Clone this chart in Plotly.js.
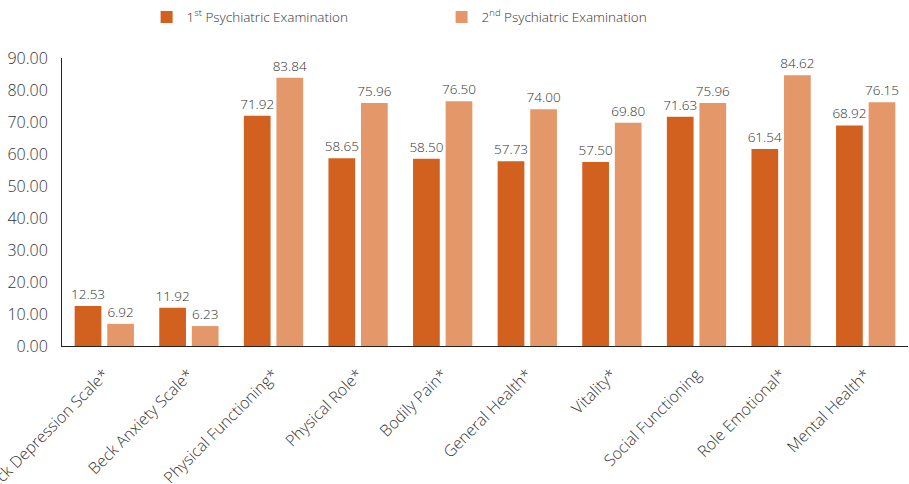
<!DOCTYPE html>
<html>
<head>
<meta charset="utf-8">
<script src="https://cdn.plot.ly/plotly-3.0.1.min.js"></script>
<style>
  html, body { margin: 0; padding: 0; background: #fff; }
  #chart { width: 909px; height: 484px; }
</style>
</head>
<body>
<div id="chart"></div>
<script>
// Mean scores at the two psychiatric examinations
const categories = [
  "Beck Depression Scale*", "Beck Anxiety Scale*", "Physical Functioning*",
  "Physical Role*", "Bodily Pain*", "General Health*", "Vitality*",
  "Social Functioning", "Role Emotional*", "Mental Health*"
];
const firstExam  = [12.53, 11.92, 71.92, 58.65, 58.50, 57.73, 57.50, 71.63, 61.54, 68.92];
const secondExam = [6.92, 6.23, 83.84, 75.96, 76.50, 74.00, 69.80, 75.96, 84.62, 76.15];
const seriesNames = ["1<sup>st</sup> Psychiatric Examination", "2<sup>nd</sup> Psychiatric Examination"];
const yTicks = [0, 10, 20, 30, 40, 50, 60, 70, 80, 90];

const FONT = "Open Sans, Lato, sans-serif";
const TEXT = "#333333";

function barTrace(values, name, color) {
  return {
    type: "bar",
    x: categories,
    y: values,
    name: name,
    marker: { color: color },
    text: values.map(v => v.toFixed(2)),
    textposition: "outside",
    constraintext: "none",
    textfont: { family: FONT, size: 13.5, color: TEXT, weight: 300 },
    cliponaxis: false,
    hoverinfo: "x+y"
  };
}

const data = [
  barTrace(firstExam, seriesNames[0], "#D2601F"),
  barTrace(secondExam, seriesNames[1], "#E4986A")
];

const layout = {
  width: 909,
  height: 484,
  margin: { l: 62, r: 1, t: 58, b: 138 },
  paper_bgcolor: "#ffffff",
  plot_bgcolor: "#ffffff",
  font: { family: FONT, color: TEXT, weight: 300 },
  barmode: "group",
  bargap: 0.23,
  bargroupgap: 0.18,
  showlegend: true,
  legend: {
    orientation: "h",
    x: 0.100, xanchor: "left",
    y: 1.142, yanchor: "middle",
    font: { family: FONT, size: 13.5, color: TEXT, weight: 300 },
    entrywidth: 250,
    entrywidthmode: "pixels",
    itemclick: false
  },
  xaxis: {
    type: "category",
    tickangle: -45,
    tickfont: { family: FONT, size: 16, color: TEXT, weight: 300 },
    showline: true,
    linecolor: "#222",
    linewidth: 1,
    ticks: "",
    ticklabelstandoff: 12,
    showgrid: false,
    automargin: false
  },
  yaxis: {
    range: [0, 90],
    tickvals: yTicks,
    ticktext: yTicks.map(v => v.toFixed(2)),
    tickfont: { family: FONT, size: 16, color: TEXT, weight: 300 },
    showline: true,
    linecolor: "#222",
    linewidth: 1,
    ticks: "",
    ticklabelstandoff: 10,
    showgrid: false,
    zeroline: false,
    automargin: false
  }
};

Plotly.newPlot("chart", data, layout, { displayModeBar: false, staticPlot: true });
</script>
</body>
</html>
